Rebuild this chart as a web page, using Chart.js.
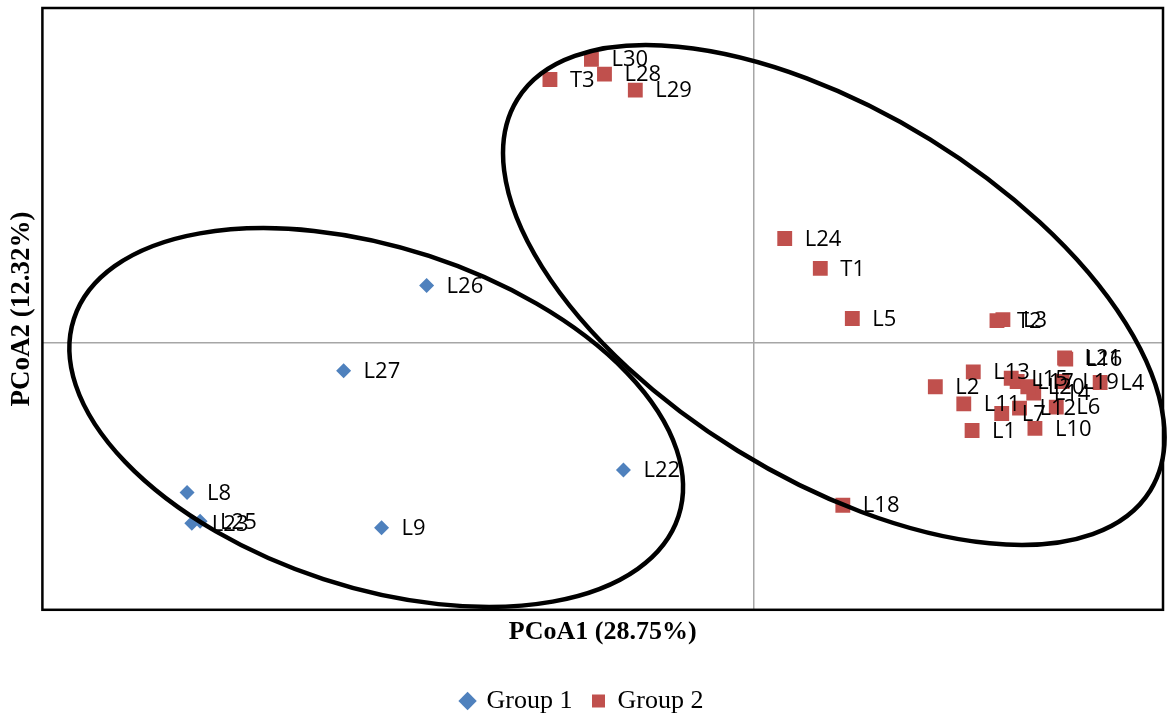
<!DOCTYPE html>
<html>
<head>
<meta charset="utf-8">
<title>PCoA</title>
<script src="https://cdn.jsdelivr.net/npm/chart.js@4.4.1/dist/chart.umd.min.js"></script>
<style>
  html, body { margin: 0; padding: 0; background: #fff; }
  #wrap { width: 1168px; height: 715px; }
</style>
</head>
<body>
<div id="wrap"><canvas id="pcoa"></canvas></div>
<script>
// values
const group1Names = ['L8', 'L9', 'L22', 'L23', 'L25', 'L26', 'L27'];
const group1X = [-0.478, -0.314, -0.110, -0.474, -0.467, -0.276, -0.346];
const group1Y = [-0.140, -0.173, -0.119, -0.169, -0.167, 0.054, -0.026];

const group2Names = ['L1', 'L2', 'L3', 'L4', 'L5', 'L6', 'L7', 'L10', 'L11', 'L12',
  'L13', 'L14', 'L15', 'L16', 'L17', 'L18', 'L19', 'L20', 'L21', 'L24',
  'L28', 'L29', 'L30', 'T1', 'T2', 'T3'];
const group2X = [0.184, 0.153, 0.210, 0.292, 0.083, 0.255, 0.209, 0.237, 0.177, 0.224,
  0.185, 0.236, 0.217, 0.263, 0.222, 0.075, 0.260, 0.231, 0.262, 0.026,
  -0.126, -0.100, -0.137, 0.056, 0.205, -0.172];
const group2Y = [-0.082, -0.041, 0.022, -0.037, 0.023, -0.060, -0.066, -0.080, -0.057, -0.061,
  -0.027, -0.047, -0.033, -0.015, -0.036, -0.152, -0.036, -0.041, -0.014, 0.098,
  0.252, 0.237, 0.266, 0.070, 0.021, 0.247];

const xRange = [-0.6, 0.345];
const yRange = [-0.25, 0.314];

// group ellipses: centre in data units, half axes in px, tilt in degrees
const ellipses = [
  { cx: -0.3185, cy: -0.0698, rx: 318, ry: 170, angle: 18.1 },
  { cx: 0.0674, cy: 0.045, rx: 372, ry: 183, angle: 31.7 }
];

const toPoints = (xs, ys) => xs.map((x, i) => ({ x: x, y: ys[i] }));

const decorations = {
  id: 'decorations',
  afterDatasetsDraw(chart) {
    const ctx = chart.ctx;
    const xs = chart.scales.x, ys = chart.scales.y;
    const area = chart.chartArea;

    ctx.save();
    ctx.strokeStyle = '#000';
    ctx.lineWidth = 4.5;
    ellipses.forEach(e => {
      ctx.beginPath();
      ctx.ellipse(xs.getPixelForValue(e.cx), ys.getPixelForValue(e.cy),
        e.rx, e.ry, e.angle * Math.PI / 180, 0, Math.PI * 2);
      ctx.stroke();
    });

    ctx.lineWidth = 2.5;
    ctx.strokeRect(area.left, area.top, area.right - area.left, area.bottom - area.top);

    ctx.fillStyle = '#000';
    ctx.font = '22px "Open Sans"';
    ctx.textBaseline = 'middle';
    const names = [group1Names, group2Names];
    chart.data.datasets.forEach((ds, di) => {
      chart.getDatasetMeta(di).data.forEach((pt, i) => {
        ctx.fillText(names[di][i], pt.x + 20, pt.y + 1);
      });
    });
    ctx.restore();
  }
};

const zeroLine = c => c.tick && c.tick.value === 0 ? '#a6a6a6' : 'rgba(0,0,0,0)';
const serif = '"Liberation Serif", "Times New Roman", serif';

new Chart(document.getElementById('pcoa'), {
  type: 'scatter',
  data: {
    datasets: [
      {
        label: 'Group 1',
        data: toPoints(group1X, group1Y),
        pointStyle: 'rectRot',
        pointRadius: 7.5,
        pointHoverRadius: 7.5,
        backgroundColor: '#4f81bd',
        borderColor: '#4f81bd',
        borderWidth: 0
      },
      {
        label: 'Group 2',
        data: toPoints(group2X, group2Y),
        pointStyle: 'rect',
        pointRadius: 10.5,
        pointHoverRadius: 10.5,
        backgroundColor: '#c0504d',
        borderColor: '#c0504d',
        borderWidth: 0
      }
    ]
  },
  options: {
    responsive: true,
    maintainAspectRatio: false,
    animation: false,
    layout: { autoPadding: false, padding: { left: 2, right: 5, top: 8, bottom: -9 } },
    plugins: {
      legend: {
        position: 'bottom',
        labels: {
          usePointStyle: true,
          boxWidth: 12,
          boxHeight: 13,
          padding: 20,
          color: '#000',
          font: { family: serif, size: 26 }
        }
      },
      tooltip: { enabled: false }
    },
    scales: {
      x: {
        type: 'linear',
        min: xRange[0],
        max: xRange[1],
        ticks: { display: false, stepSize: 0.1 },
        grid: { color: zeroLine, lineWidth: 1.5, drawTicks: false },
        border: { display: false },
        title: {
          display: true,
          text: 'PCoA1 (28.75%)',
          color: '#000',
          padding: { top: 7, bottom: 20 },
          font: { family: serif, size: 26, weight: 'bold' }
        }
      },
      y: {
        type: 'linear',
        min: yRange[0],
        max: yRange[1],
        ticks: { display: false, stepSize: 0.05 },
        grid: { color: zeroLine, lineWidth: 1.5, drawTicks: false },
        border: { display: false },
        title: {
          display: true,
          text: 'PCoA2 (12.32%)',
          color: '#000',
          padding: { top: 4, bottom: 4 },
          font: { family: serif, size: 27, weight: 'bold' }
        }
      }
    }
  },
  plugins: [decorations]
});
</script>
</body>
</html>
